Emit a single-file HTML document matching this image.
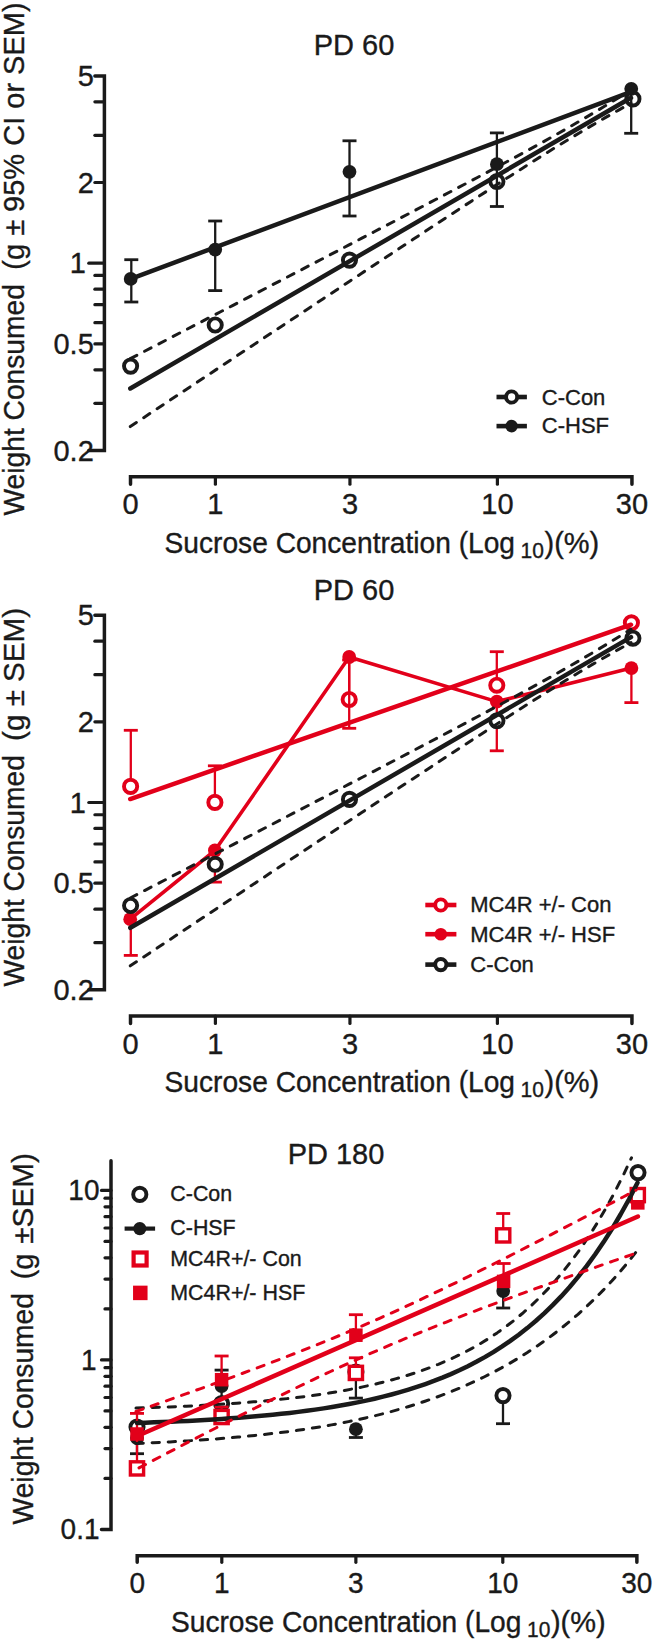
<!DOCTYPE html><html><head><meta charset="utf-8"><style>html,body{margin:0;padding:0;background:#fff;overflow:hidden}svg{display:block}text{font-family:"Liberation Sans",sans-serif}</style></head><body>
<svg width="655" height="1641" viewBox="0 0 655 1641">
<rect width="655" height="1641" fill="#fff"/>
<path d="M94.9,75.88 L104.4,75.88 L104.4,450.52 L88.8,450.52" fill="none" stroke="#1a1a1a" stroke-width="3.5" stroke-linejoin="miter" stroke-linecap="round"/>
<line x1="94.9" y1="403.33" x2="104.4" y2="403.33" stroke="#1a1a1a" stroke-width="3.2" stroke-linecap="round"/>
<line x1="94.9" y1="369.85" x2="104.4" y2="369.85" stroke="#1a1a1a" stroke-width="3.2" stroke-linecap="round"/>
<line x1="94.9" y1="343.88" x2="104.4" y2="343.88" stroke="#1a1a1a" stroke-width="3.2" stroke-linecap="round"/>
<line x1="94.9" y1="322.66" x2="104.4" y2="322.66" stroke="#1a1a1a" stroke-width="3.2" stroke-linecap="round"/>
<line x1="94.9" y1="304.71" x2="104.4" y2="304.71" stroke="#1a1a1a" stroke-width="3.2" stroke-linecap="round"/>
<line x1="94.9" y1="289.17" x2="104.4" y2="289.17" stroke="#1a1a1a" stroke-width="3.2" stroke-linecap="round"/>
<line x1="94.9" y1="275.46" x2="104.4" y2="275.46" stroke="#1a1a1a" stroke-width="3.2" stroke-linecap="round"/>
<line x1="94.9" y1="182.52" x2="104.4" y2="182.52" stroke="#1a1a1a" stroke-width="3.2" stroke-linecap="round"/>
<line x1="94.9" y1="135.33" x2="104.4" y2="135.33" stroke="#1a1a1a" stroke-width="3.2" stroke-linecap="round"/>
<line x1="94.9" y1="101.85" x2="104.4" y2="101.85" stroke="#1a1a1a" stroke-width="3.2" stroke-linecap="round"/>
<line x1="88.8" y1="263.2" x2="104.4" y2="263.2" stroke="#1a1a1a" stroke-width="3.2" stroke-linecap="round"/>
<text transform="translate(93.8,86.08) scale(1,1.04)" font-size="29" text-anchor="end" fill="#1a1a1a" stroke="#1a1a1a" stroke-width="0.35">5</text>
<text transform="translate(93.8,192.72) scale(1,1.04)" font-size="29" text-anchor="end" fill="#1a1a1a" stroke="#1a1a1a" stroke-width="0.35">2</text>
<text transform="translate(93.8,354.08) scale(1,1.04)" font-size="29" text-anchor="end" fill="#1a1a1a" stroke="#1a1a1a" stroke-width="0.35">0.5</text>
<text transform="translate(93.8,460.72) scale(1,1.04)" font-size="29" text-anchor="end" fill="#1a1a1a" stroke="#1a1a1a" stroke-width="0.35">0.2</text>
<text transform="translate(86,273.4) scale(1,1.04)" font-size="29" text-anchor="end" fill="#1a1a1a" stroke="#1a1a1a" stroke-width="0.35">1</text>
<path d="M130.51,484.2 L130.51,476.7 L631.95,476.7 L631.95,484.2" fill="none" stroke="#1a1a1a" stroke-width="3.5" stroke-linecap="round" stroke-linejoin="miter"/>
<line x1="215.4" y1="476.7" x2="215.4" y2="484.2" stroke="#1a1a1a" stroke-width="3.2" stroke-linecap="round"/>
<line x1="349.95" y1="476.7" x2="349.95" y2="484.2" stroke="#1a1a1a" stroke-width="3.2" stroke-linecap="round"/>
<line x1="497.4" y1="476.7" x2="497.4" y2="484.2" stroke="#1a1a1a" stroke-width="3.2" stroke-linecap="round"/>
<text transform="translate(130.51,514.3) scale(1,1.04)" font-size="29" text-anchor="middle" fill="#1a1a1a" stroke="#1a1a1a" stroke-width="0.35">0</text>
<text transform="translate(215.4,514.3) scale(1,1.04)" font-size="29" text-anchor="middle" fill="#1a1a1a" stroke="#1a1a1a" stroke-width="0.35">1</text>
<text transform="translate(349.95,514.3) scale(1,1.04)" font-size="29" text-anchor="middle" fill="#1a1a1a" stroke="#1a1a1a" stroke-width="0.35">3</text>
<text transform="translate(497.4,514.3) scale(1,1.04)" font-size="29" text-anchor="middle" fill="#1a1a1a" stroke="#1a1a1a" stroke-width="0.35">10</text>
<text transform="translate(631.95,514.3) scale(1,1.04)" font-size="29" text-anchor="middle" fill="#1a1a1a" stroke="#1a1a1a" stroke-width="0.35">30</text>
<text transform="translate(354,55.4) scale(1,1.04)" font-size="29" text-anchor="middle" fill="#1a1a1a" stroke="#1a1a1a" stroke-width="0.35">PD 60</text>
<text transform="translate(164.6,552.7) scale(1,1.02)" font-size="28.15" fill="#1a1a1a" stroke="#1a1a1a" stroke-width="0.35">Sucrose Concentration (Log</text>
<text transform="translate(520.6,558) scale(1,1.02)" font-size="21" fill="#1a1a1a" stroke="#1a1a1a" stroke-width="0.35">10</text>
<text transform="translate(544.5,552.7) scale(1,1.0)" font-size="29" fill="#1a1a1a" stroke="#1a1a1a" stroke-width="0.35">)(%)</text>
<text font-size="28.2" fill="#1a1a1a" stroke="#1a1a1a" stroke-width="0.35" transform="translate(24.05,515.5) rotate(-90) scale(1,1.03)">Weight Consumed</text>
<text font-size="29" fill="#1a1a1a" stroke="#1a1a1a" stroke-width="0.35" transform="translate(24.05,269.7) rotate(-90) scale(1,1.0)">(g ± 95% CI or SEM)</text>
<circle cx="130.6" cy="366.1" r="6.6" fill="#fff" stroke="#1a1a1a" stroke-width="3.9"/>
<circle cx="215.2" cy="325" r="6.6" fill="#fff" stroke="#1a1a1a" stroke-width="3.9"/>
<circle cx="349.5" cy="260.1" r="6.6" fill="#fff" stroke="#1a1a1a" stroke-width="3.9"/>
<circle cx="496.9" cy="181.5" r="6.6" fill="#fff" stroke="#1a1a1a" stroke-width="3.9"/>
<circle cx="632.9" cy="98.9" r="6.6" fill="#fff" stroke="#1a1a1a" stroke-width="3.9"/>
<line x1="131.3" y1="278.9" x2="131.3" y2="259.7" stroke="#1a1a1a" stroke-width="2.3" stroke-linecap="butt"/>
<line x1="124.3" y1="259.7" x2="138.3" y2="259.7" stroke="#1a1a1a" stroke-width="2.8" stroke-linecap="butt"/>
<line x1="131.3" y1="278.9" x2="131.3" y2="302" stroke="#1a1a1a" stroke-width="2.3" stroke-linecap="butt"/>
<line x1="124.3" y1="302" x2="138.3" y2="302" stroke="#1a1a1a" stroke-width="2.8" stroke-linecap="butt"/>
<line x1="215.2" y1="249.6" x2="215.2" y2="221" stroke="#1a1a1a" stroke-width="2.3" stroke-linecap="butt"/>
<line x1="208.2" y1="221" x2="222.2" y2="221" stroke="#1a1a1a" stroke-width="2.8" stroke-linecap="butt"/>
<line x1="215.2" y1="249.6" x2="215.2" y2="290.6" stroke="#1a1a1a" stroke-width="2.3" stroke-linecap="butt"/>
<line x1="208.2" y1="290.6" x2="222.2" y2="290.6" stroke="#1a1a1a" stroke-width="2.8" stroke-linecap="butt"/>
<line x1="349.5" y1="171.8" x2="349.5" y2="140.8" stroke="#1a1a1a" stroke-width="2.3" stroke-linecap="butt"/>
<line x1="342.5" y1="140.8" x2="356.5" y2="140.8" stroke="#1a1a1a" stroke-width="2.8" stroke-linecap="butt"/>
<line x1="349.5" y1="171.8" x2="349.5" y2="216" stroke="#1a1a1a" stroke-width="2.3" stroke-linecap="butt"/>
<line x1="342.5" y1="216" x2="356.5" y2="216" stroke="#1a1a1a" stroke-width="2.8" stroke-linecap="butt"/>
<line x1="496.9" y1="164.2" x2="496.9" y2="132.9" stroke="#1a1a1a" stroke-width="2.3" stroke-linecap="butt"/>
<line x1="489.9" y1="132.9" x2="503.9" y2="132.9" stroke="#1a1a1a" stroke-width="2.8" stroke-linecap="butt"/>
<line x1="496.9" y1="164.2" x2="496.9" y2="206.5" stroke="#1a1a1a" stroke-width="2.3" stroke-linecap="butt"/>
<line x1="489.9" y1="206.5" x2="503.9" y2="206.5" stroke="#1a1a1a" stroke-width="2.8" stroke-linecap="butt"/>
<line x1="631.2" y1="88.9" x2="631.2" y2="133.3" stroke="#1a1a1a" stroke-width="2.3" stroke-linecap="butt"/>
<line x1="624.2" y1="133.3" x2="638.2" y2="133.3" stroke="#1a1a1a" stroke-width="2.8" stroke-linecap="butt"/>
<circle cx="130.7" cy="278.9" r="6.9" fill="#1a1a1a"/>
<circle cx="215.2" cy="249.6" r="6.9" fill="#1a1a1a"/>
<circle cx="349.5" cy="171.8" r="6.9" fill="#1a1a1a"/>
<circle cx="496.9" cy="164.2" r="6.9" fill="#1a1a1a"/>
<circle cx="631.25" cy="88.8" r="6.9" fill="#1a1a1a"/>
<path d="M130.3,358.66 L143.14,352 L155.98,345.33 L168.82,338.66 L181.65,332 L194.49,325.33 L207.33,318.66 L220.17,311.98 L233.01,305.31 L245.85,298.64 L258.68,291.96 L271.52,285.28 L284.36,278.6 L297.2,271.92 L310.04,265.23 L322.88,258.54 L335.72,251.85 L348.55,245.15 L361.39,238.45 L374.23,231.75 L387.07,225.03 L399.91,218.31 L412.75,211.58 L425.58,204.84 L438.42,198.09 L451.26,191.32 L464.1,184.53 L476.94,177.72 L489.78,170.87 L502.62,163.99 L515.45,157.06 L528.29,150.07 L541.13,142.99 L553.97,135.82 L566.81,128.53 L579.65,121.1 L592.48,113.53 L605.32,105.8 L618.16,97.93 L631,89.93" fill="none" stroke="#1a1a1a" stroke-width="3.0" stroke-linecap="round" stroke-linejoin="round" stroke-dasharray="7.3 8.8"/>
<path d="M130.3,426.55 L143.14,418.04 L155.98,409.52 L168.82,401 L181.65,392.49 L194.49,383.98 L207.33,375.46 L220.17,366.95 L233.01,358.44 L245.85,349.93 L258.68,341.43 L271.52,332.92 L284.36,324.42 L297.2,315.92 L310.04,307.42 L322.88,298.93 L335.72,290.44 L348.55,281.95 L361.39,273.47 L374.23,265 L387.07,256.53 L399.91,248.07 L412.75,239.61 L425.58,231.17 L438.42,222.74 L451.26,214.33 L464.1,205.93 L476.94,197.57 L489.78,189.23 L502.62,180.92 L515.45,172.67 L528.29,164.48 L541.13,156.37 L553.97,148.36 L566.81,140.47 L579.65,132.71 L592.48,125.11 L605.32,117.66 L618.16,110.34 L631,103.15" fill="none" stroke="#1a1a1a" stroke-width="3.0" stroke-linecap="round" stroke-linejoin="round" stroke-dasharray="7.3 8.8"/>
<path d="M130.3,388.5 L631,97.8" fill="none" stroke="#1a1a1a" stroke-width="4.5" stroke-linecap="round" stroke-linejoin="round"/>
<path d="M130.7,278.9 L631,91.9" fill="none" stroke="#1a1a1a" stroke-width="4.5" stroke-linecap="round" stroke-linejoin="round"/>
<line x1="496.5" y1="397" x2="526.9" y2="397" stroke="#1a1a1a" stroke-width="4.6" stroke-linecap="butt"/>
<circle cx="511.6" cy="397" r="5.6" fill="#fff" stroke="#1a1a1a" stroke-width="3.9"/>
<text transform="translate(541.8,404.5) scale(1,1.04)" font-size="22" text-anchor="start" fill="#1a1a1a" stroke="#1a1a1a" stroke-width="0.35">C-Con</text>
<line x1="496.5" y1="426.1" x2="526.9" y2="426.1" stroke="#1a1a1a" stroke-width="4.6" stroke-linecap="butt"/>
<circle cx="511.6" cy="426.1" r="6.3" fill="#1a1a1a"/>
<text transform="translate(541.8,433.3) scale(1,1.04)" font-size="22" text-anchor="start" fill="#1a1a1a" stroke="#1a1a1a" stroke-width="0.35">C-HSF</text>
<path d="M94.9,615.18 L104.4,615.18 L104.4,989.82 L88.8,989.82" fill="none" stroke="#1a1a1a" stroke-width="3.5" stroke-linejoin="miter" stroke-linecap="round"/>
<line x1="94.9" y1="942.63" x2="104.4" y2="942.63" stroke="#1a1a1a" stroke-width="3.2" stroke-linecap="round"/>
<line x1="94.9" y1="909.15" x2="104.4" y2="909.15" stroke="#1a1a1a" stroke-width="3.2" stroke-linecap="round"/>
<line x1="94.9" y1="883.18" x2="104.4" y2="883.18" stroke="#1a1a1a" stroke-width="3.2" stroke-linecap="round"/>
<line x1="94.9" y1="861.96" x2="104.4" y2="861.96" stroke="#1a1a1a" stroke-width="3.2" stroke-linecap="round"/>
<line x1="94.9" y1="844.01" x2="104.4" y2="844.01" stroke="#1a1a1a" stroke-width="3.2" stroke-linecap="round"/>
<line x1="94.9" y1="828.47" x2="104.4" y2="828.47" stroke="#1a1a1a" stroke-width="3.2" stroke-linecap="round"/>
<line x1="94.9" y1="814.76" x2="104.4" y2="814.76" stroke="#1a1a1a" stroke-width="3.2" stroke-linecap="round"/>
<line x1="94.9" y1="721.82" x2="104.4" y2="721.82" stroke="#1a1a1a" stroke-width="3.2" stroke-linecap="round"/>
<line x1="94.9" y1="674.63" x2="104.4" y2="674.63" stroke="#1a1a1a" stroke-width="3.2" stroke-linecap="round"/>
<line x1="94.9" y1="641.15" x2="104.4" y2="641.15" stroke="#1a1a1a" stroke-width="3.2" stroke-linecap="round"/>
<line x1="88.8" y1="802.5" x2="104.4" y2="802.5" stroke="#1a1a1a" stroke-width="3.2" stroke-linecap="round"/>
<text transform="translate(93.8,625.38) scale(1,1.04)" font-size="29" text-anchor="end" fill="#1a1a1a" stroke="#1a1a1a" stroke-width="0.35">5</text>
<text transform="translate(93.8,732.02) scale(1,1.04)" font-size="29" text-anchor="end" fill="#1a1a1a" stroke="#1a1a1a" stroke-width="0.35">2</text>
<text transform="translate(93.8,893.38) scale(1,1.04)" font-size="29" text-anchor="end" fill="#1a1a1a" stroke="#1a1a1a" stroke-width="0.35">0.5</text>
<text transform="translate(93.8,1000.02) scale(1,1.04)" font-size="29" text-anchor="end" fill="#1a1a1a" stroke="#1a1a1a" stroke-width="0.35">0.2</text>
<text transform="translate(86,812.7) scale(1,1.04)" font-size="29" text-anchor="end" fill="#1a1a1a" stroke="#1a1a1a" stroke-width="0.35">1</text>
<path d="M130.51,1023.5 L130.51,1016 L631.95,1016 L631.95,1023.5" fill="none" stroke="#1a1a1a" stroke-width="3.5" stroke-linecap="round" stroke-linejoin="miter"/>
<line x1="215.4" y1="1016" x2="215.4" y2="1023.5" stroke="#1a1a1a" stroke-width="3.2" stroke-linecap="round"/>
<line x1="349.95" y1="1016" x2="349.95" y2="1023.5" stroke="#1a1a1a" stroke-width="3.2" stroke-linecap="round"/>
<line x1="497.4" y1="1016" x2="497.4" y2="1023.5" stroke="#1a1a1a" stroke-width="3.2" stroke-linecap="round"/>
<text transform="translate(130.51,1053.6) scale(1,1.04)" font-size="29" text-anchor="middle" fill="#1a1a1a" stroke="#1a1a1a" stroke-width="0.35">0</text>
<text transform="translate(215.4,1053.6) scale(1,1.04)" font-size="29" text-anchor="middle" fill="#1a1a1a" stroke="#1a1a1a" stroke-width="0.35">1</text>
<text transform="translate(349.95,1053.6) scale(1,1.04)" font-size="29" text-anchor="middle" fill="#1a1a1a" stroke="#1a1a1a" stroke-width="0.35">3</text>
<text transform="translate(497.4,1053.6) scale(1,1.04)" font-size="29" text-anchor="middle" fill="#1a1a1a" stroke="#1a1a1a" stroke-width="0.35">10</text>
<text transform="translate(631.95,1053.6) scale(1,1.04)" font-size="29" text-anchor="middle" fill="#1a1a1a" stroke="#1a1a1a" stroke-width="0.35">30</text>
<text transform="translate(354,600) scale(1,1.04)" font-size="29" text-anchor="middle" fill="#1a1a1a" stroke="#1a1a1a" stroke-width="0.35">PD 60</text>
<text transform="translate(164.6,1092) scale(1,1.02)" font-size="28.15" fill="#1a1a1a" stroke="#1a1a1a" stroke-width="0.35">Sucrose Concentration (Log</text>
<text transform="translate(520.6,1097.3) scale(1,1.02)" font-size="21" fill="#1a1a1a" stroke="#1a1a1a" stroke-width="0.35">10</text>
<text transform="translate(544.5,1092) scale(1,1.0)" font-size="29" fill="#1a1a1a" stroke="#1a1a1a" stroke-width="0.35">)(%)</text>
<text font-size="28.2" fill="#1a1a1a" stroke="#1a1a1a" stroke-width="0.35" transform="translate(24.05,986.5) rotate(-90) scale(1,1.03)">Weight Consumed</text>
<text font-size="29.6" fill="#1a1a1a" stroke="#1a1a1a" stroke-width="0.35" transform="translate(24.05,740.9) rotate(-90) scale(1,1.0)">(g ± SEM)</text>
<line x1="130.8" y1="786.4" x2="130.8" y2="730.3" stroke="#e2001a" stroke-width="2.3" stroke-linecap="butt"/>
<line x1="123.8" y1="730.3" x2="137.8" y2="730.3" stroke="#e2001a" stroke-width="2.8" stroke-linecap="butt"/>
<line x1="214.9" y1="802.4" x2="214.9" y2="765.8" stroke="#e2001a" stroke-width="2.3" stroke-linecap="butt"/>
<line x1="207.9" y1="765.8" x2="221.9" y2="765.8" stroke="#e2001a" stroke-width="2.8" stroke-linecap="butt"/>
<line x1="496.8" y1="685.2" x2="496.8" y2="651.7" stroke="#e2001a" stroke-width="2.3" stroke-linecap="butt"/>
<line x1="489.8" y1="651.7" x2="503.8" y2="651.7" stroke="#e2001a" stroke-width="2.8" stroke-linecap="butt"/>
<line x1="349.2" y1="699.5" x2="349.2" y2="660" stroke="#e2001a" stroke-width="2.3" stroke-linecap="butt"/>
<line x1="342.2" y1="660" x2="356.2" y2="660" stroke="#e2001a" stroke-width="2.8" stroke-linecap="butt"/>
<circle cx="130.6" cy="786.4" r="6.6" fill="#fff" stroke="#e2001a" stroke-width="3.9"/>
<circle cx="214.9" cy="802.4" r="6.6" fill="#fff" stroke="#e2001a" stroke-width="3.9"/>
<circle cx="349.2" cy="699.5" r="6.6" fill="#fff" stroke="#e2001a" stroke-width="3.9"/>
<circle cx="496.8" cy="685.2" r="6.6" fill="#fff" stroke="#e2001a" stroke-width="3.9"/>
<circle cx="631.4" cy="622.8" r="6.6" fill="#fff" stroke="#e2001a" stroke-width="3.9"/>
<line x1="130.8" y1="919.2" x2="130.8" y2="955.4" stroke="#e2001a" stroke-width="2.3" stroke-linecap="butt"/>
<line x1="123.8" y1="955.4" x2="137.8" y2="955.4" stroke="#e2001a" stroke-width="2.8" stroke-linecap="butt"/>
<line x1="214.9" y1="850.5" x2="214.9" y2="882.1" stroke="#e2001a" stroke-width="2.3" stroke-linecap="butt"/>
<line x1="207.9" y1="882.1" x2="221.9" y2="882.1" stroke="#e2001a" stroke-width="2.8" stroke-linecap="butt"/>
<line x1="349.2" y1="657" x2="349.2" y2="728.3" stroke="#e2001a" stroke-width="2.3" stroke-linecap="butt"/>
<line x1="342.2" y1="728.3" x2="356.2" y2="728.3" stroke="#e2001a" stroke-width="2.8" stroke-linecap="butt"/>
<line x1="496.8" y1="701.6" x2="496.8" y2="750.8" stroke="#e2001a" stroke-width="2.3" stroke-linecap="butt"/>
<line x1="489.8" y1="750.8" x2="503.8" y2="750.8" stroke="#e2001a" stroke-width="2.8" stroke-linecap="butt"/>
<line x1="631.4" y1="668.1" x2="631.4" y2="702.6" stroke="#e2001a" stroke-width="2.3" stroke-linecap="butt"/>
<line x1="624.4" y1="702.6" x2="638.4" y2="702.6" stroke="#e2001a" stroke-width="2.8" stroke-linecap="butt"/>
<circle cx="130.2" cy="919.2" r="6.9" fill="#e2001a"/>
<circle cx="214.9" cy="850.5" r="6.9" fill="#e2001a"/>
<circle cx="349.2" cy="657" r="6.9" fill="#e2001a"/>
<circle cx="496.8" cy="701.6" r="6.9" fill="#e2001a"/>
<circle cx="631.4" cy="668.1" r="6.9" fill="#e2001a"/>
<path d="M130.2,799 L631,624.7" fill="none" stroke="#e2001a" stroke-width="4.5" stroke-linecap="round" stroke-linejoin="round"/>
<path d="M130.2,919.2 L214.9,850.5 L349.2,657 L496.8,701.6 L631.4,668.1" fill="none" stroke="#e2001a" stroke-width="3.6" stroke-linecap="round" stroke-linejoin="round"/>
<circle cx="130.6" cy="905.5" r="6.6" fill="#fff" stroke="#1a1a1a" stroke-width="3.9"/>
<circle cx="215.2" cy="864.3" r="6.6" fill="#fff" stroke="#1a1a1a" stroke-width="3.9"/>
<circle cx="349.5" cy="799.4" r="6.6" fill="#fff" stroke="#1a1a1a" stroke-width="3.9"/>
<circle cx="496.9" cy="720.8" r="6.6" fill="#fff" stroke="#1a1a1a" stroke-width="3.9"/>
<circle cx="632.9" cy="638.2" r="6.6" fill="#fff" stroke="#1a1a1a" stroke-width="3.9"/>
<path d="M130.3,897.96 L143.14,891.3 L155.98,884.63 L168.82,877.96 L181.65,871.3 L194.49,864.63 L207.33,857.96 L220.17,851.28 L233.01,844.61 L245.85,837.94 L258.68,831.26 L271.52,824.58 L284.36,817.9 L297.2,811.22 L310.04,804.53 L322.88,797.84 L335.72,791.15 L348.55,784.45 L361.39,777.75 L374.23,771.05 L387.07,764.33 L399.91,757.61 L412.75,750.88 L425.58,744.14 L438.42,737.39 L451.26,730.62 L464.1,723.83 L476.94,717.02 L489.78,710.17 L502.62,703.29 L515.45,696.36 L528.29,689.37 L541.13,682.29 L553.97,675.12 L566.81,667.83 L579.65,660.4 L592.48,652.83 L605.32,645.1 L618.16,637.23 L631,629.23" fill="none" stroke="#1a1a1a" stroke-width="3.0" stroke-linecap="round" stroke-linejoin="round" stroke-dasharray="7.3 8.8"/>
<path d="M130.3,965.85 L143.14,957.34 L155.98,948.82 L168.82,940.3 L181.65,931.79 L194.49,923.28 L207.33,914.76 L220.17,906.25 L233.01,897.74 L245.85,889.23 L258.68,880.73 L271.52,872.22 L284.36,863.72 L297.2,855.22 L310.04,846.72 L322.88,838.23 L335.72,829.74 L348.55,821.25 L361.39,812.77 L374.23,804.3 L387.07,795.83 L399.91,787.37 L412.75,778.91 L425.58,770.47 L438.42,762.04 L451.26,753.63 L464.1,745.23 L476.94,736.87 L489.78,728.53 L502.62,720.22 L515.45,711.97 L528.29,703.78 L541.13,695.67 L553.97,687.66 L566.81,679.77 L579.65,672.01 L592.48,664.41 L605.32,656.96 L618.16,649.64 L631,642.45" fill="none" stroke="#1a1a1a" stroke-width="3.0" stroke-linecap="round" stroke-linejoin="round" stroke-dasharray="7.3 8.8"/>
<path d="M130.3,927.8 L631,637.1" fill="none" stroke="#1a1a1a" stroke-width="4.5" stroke-linecap="round" stroke-linejoin="round"/>
<line x1="425.3" y1="905" x2="456.4" y2="905" stroke="#e2001a" stroke-width="4.6" stroke-linecap="butt"/>
<circle cx="440.8" cy="905" r="5.6" fill="#fff" stroke="#e2001a" stroke-width="3.9"/>
<text transform="translate(470.3,912.1) scale(1,1.04)" font-size="22" text-anchor="start" fill="#1a1a1a" stroke="#1a1a1a" stroke-width="0.35">MC4R +/- Con</text>
<line x1="425.3" y1="934.2" x2="456.4" y2="934.2" stroke="#e2001a" stroke-width="4.6" stroke-linecap="butt"/>
<circle cx="440.8" cy="934.2" r="6.3" fill="#e2001a"/>
<text transform="translate(470.3,941.8) scale(1,1.04)" font-size="22" text-anchor="start" fill="#1a1a1a" stroke="#1a1a1a" stroke-width="0.35">MC4R +/- HSF</text>
<line x1="425.3" y1="964.6" x2="456.4" y2="964.6" stroke="#1a1a1a" stroke-width="4.6" stroke-linecap="butt"/>
<circle cx="440.8" cy="964.6" r="5.6" fill="#fff" stroke="#1a1a1a" stroke-width="3.9"/>
<text transform="translate(470.3,971.5) scale(1,1.04)" font-size="22" text-anchor="start" fill="#1a1a1a" stroke="#1a1a1a" stroke-width="0.35">C-Con</text>
<path d="M111,1160.8 L111,1529.4 L101.5,1529.4" fill="none" stroke="#1a1a1a" stroke-width="3.5" stroke-linecap="round"/>
<line x1="105" y1="1478.38" x2="111" y2="1478.38" stroke="#1a1a1a" stroke-width="3.2" stroke-linecap="round"/>
<line x1="105" y1="1448.53" x2="111" y2="1448.53" stroke="#1a1a1a" stroke-width="3.2" stroke-linecap="round"/>
<line x1="105" y1="1427.35" x2="111" y2="1427.35" stroke="#1a1a1a" stroke-width="3.2" stroke-linecap="round"/>
<line x1="105" y1="1410.92" x2="111" y2="1410.92" stroke="#1a1a1a" stroke-width="3.2" stroke-linecap="round"/>
<line x1="105" y1="1397.5" x2="111" y2="1397.5" stroke="#1a1a1a" stroke-width="3.2" stroke-linecap="round"/>
<line x1="105" y1="1386.16" x2="111" y2="1386.16" stroke="#1a1a1a" stroke-width="3.2" stroke-linecap="round"/>
<line x1="105" y1="1376.33" x2="111" y2="1376.33" stroke="#1a1a1a" stroke-width="3.2" stroke-linecap="round"/>
<line x1="105" y1="1367.66" x2="111" y2="1367.66" stroke="#1a1a1a" stroke-width="3.2" stroke-linecap="round"/>
<line x1="105" y1="1308.88" x2="111" y2="1308.88" stroke="#1a1a1a" stroke-width="3.2" stroke-linecap="round"/>
<line x1="105" y1="1279.03" x2="111" y2="1279.03" stroke="#1a1a1a" stroke-width="3.2" stroke-linecap="round"/>
<line x1="105" y1="1257.85" x2="111" y2="1257.85" stroke="#1a1a1a" stroke-width="3.2" stroke-linecap="round"/>
<line x1="105" y1="1241.42" x2="111" y2="1241.42" stroke="#1a1a1a" stroke-width="3.2" stroke-linecap="round"/>
<line x1="105" y1="1228" x2="111" y2="1228" stroke="#1a1a1a" stroke-width="3.2" stroke-linecap="round"/>
<line x1="105" y1="1216.66" x2="111" y2="1216.66" stroke="#1a1a1a" stroke-width="3.2" stroke-linecap="round"/>
<line x1="105" y1="1206.83" x2="111" y2="1206.83" stroke="#1a1a1a" stroke-width="3.2" stroke-linecap="round"/>
<line x1="105" y1="1198.16" x2="111" y2="1198.16" stroke="#1a1a1a" stroke-width="3.2" stroke-linecap="round"/>
<line x1="101.5" y1="1359.9" x2="111" y2="1359.9" stroke="#1a1a1a" stroke-width="3.2" stroke-linecap="round"/>
<line x1="101.5" y1="1190.4" x2="111" y2="1190.4" stroke="#1a1a1a" stroke-width="3.2" stroke-linecap="round"/>
<text transform="translate(99.5,1200.2) scale(1,1.04)" font-size="28" text-anchor="end" fill="#1a1a1a" stroke="#1a1a1a" stroke-width="0.35">10</text>
<text transform="translate(96.5,1369.7) scale(1,1.04)" font-size="28" text-anchor="end" fill="#1a1a1a" stroke="#1a1a1a" stroke-width="0.35">1</text>
<text transform="translate(99.5,1539.2) scale(1,1.04)" font-size="28" text-anchor="end" fill="#1a1a1a" stroke="#1a1a1a" stroke-width="0.35">0.1</text>
<path d="M137.21,1562.3 L137.21,1555.8 L636.87,1555.8 L636.87,1562.3" fill="none" stroke="#1a1a1a" stroke-width="3.5" stroke-linecap="round"/>
<line x1="221.8" y1="1555.8" x2="221.8" y2="1562.3" stroke="#1a1a1a" stroke-width="3.2" stroke-linecap="round"/>
<line x1="355.87" y1="1555.8" x2="355.87" y2="1562.3" stroke="#1a1a1a" stroke-width="3.2" stroke-linecap="round"/>
<line x1="502.8" y1="1555.8" x2="502.8" y2="1562.3" stroke="#1a1a1a" stroke-width="3.2" stroke-linecap="round"/>
<text transform="translate(137.21,1593.2) scale(1,1.04)" font-size="28" text-anchor="middle" fill="#1a1a1a" stroke="#1a1a1a" stroke-width="0.35">0</text>
<text transform="translate(221.8,1593.2) scale(1,1.04)" font-size="28" text-anchor="middle" fill="#1a1a1a" stroke="#1a1a1a" stroke-width="0.35">1</text>
<text transform="translate(355.87,1593.2) scale(1,1.04)" font-size="28" text-anchor="middle" fill="#1a1a1a" stroke="#1a1a1a" stroke-width="0.35">3</text>
<text transform="translate(502.8,1593.2) scale(1,1.04)" font-size="28" text-anchor="middle" fill="#1a1a1a" stroke="#1a1a1a" stroke-width="0.35">10</text>
<text transform="translate(636.87,1593.2) scale(1,1.04)" font-size="28" text-anchor="middle" fill="#1a1a1a" stroke="#1a1a1a" stroke-width="0.35">30</text>
<text transform="translate(171,1632) scale(1,1.02)" font-size="28.15" fill="#1a1a1a" stroke="#1a1a1a" stroke-width="0.35">Sucrose Concentration (Log</text>
<text transform="translate(527,1637.3) scale(1,1.02)" font-size="21" fill="#1a1a1a" stroke="#1a1a1a" stroke-width="0.35">10</text>
<text transform="translate(550.9,1632) scale(1,1.0)" font-size="29" fill="#1a1a1a" stroke="#1a1a1a" stroke-width="0.35">)(%)</text>
<text transform="translate(336,1164.2) scale(1,1.04)" font-size="29" text-anchor="middle" fill="#1a1a1a" stroke="#1a1a1a" stroke-width="0.35">PD 180</text>
<text font-size="28.2" fill="#1a1a1a" stroke="#1a1a1a" stroke-width="0.35" transform="translate(32.8,1524.4) rotate(-90) scale(1,1.03)">Weight Consumed</text>
<text font-size="29" fill="#1a1a1a" stroke="#1a1a1a" stroke-width="0.35" transform="translate(32.8,1279.3) rotate(-90) scale(1,1.0)">(g</text>
<text font-size="29.8" fill="#1a1a1a" stroke="#1a1a1a" stroke-width="0.35" transform="translate(32.8,1243.8) rotate(-90) scale(1,1.0)">±SEM)</text>
<line x1="137" y1="1438" x2="137" y2="1453.7" stroke="#1a1a1a" stroke-width="2.3" stroke-linecap="butt"/>
<line x1="130" y1="1453.7" x2="144" y2="1453.7" stroke="#1a1a1a" stroke-width="2.8" stroke-linecap="butt"/>
<circle cx="137" cy="1427" r="6.6" fill="#fff" stroke="#1a1a1a" stroke-width="3.9"/>
<circle cx="137" cy="1438" r="6.9" fill="#1a1a1a"/>
<line x1="221.6" y1="1386" x2="221.6" y2="1370.1" stroke="#1a1a1a" stroke-width="2.3" stroke-linecap="butt"/>
<line x1="214.6" y1="1370.1" x2="228.6" y2="1370.1" stroke="#1a1a1a" stroke-width="2.8" stroke-linecap="butt"/>
<circle cx="221.6" cy="1386" r="6.9" fill="#1a1a1a"/>
<line x1="221.6" y1="1403.5" x2="221.6" y2="1387" stroke="#1a1a1a" stroke-width="2.3" stroke-linecap="butt"/>
<circle cx="221.6" cy="1403.5" r="6.6" fill="#fff" stroke="#1a1a1a" stroke-width="3.9"/>
<line x1="355.9" y1="1372" x2="355.9" y2="1398.1" stroke="#1a1a1a" stroke-width="2.3" stroke-linecap="butt"/>
<line x1="348.9" y1="1398.1" x2="362.9" y2="1398.1" stroke="#1a1a1a" stroke-width="2.8" stroke-linecap="butt"/>
<circle cx="355.9" cy="1372" r="6.6" fill="#fff" stroke="#1a1a1a" stroke-width="3.9"/>
<line x1="355.9" y1="1429.2" x2="355.9" y2="1437.5" stroke="#1a1a1a" stroke-width="2.3" stroke-linecap="butt"/>
<line x1="348.9" y1="1437.5" x2="362.9" y2="1437.5" stroke="#1a1a1a" stroke-width="2.8" stroke-linecap="butt"/>
<circle cx="355.9" cy="1429.2" r="6.9" fill="#1a1a1a"/>
<line x1="503.2" y1="1291" x2="503.2" y2="1308" stroke="#1a1a1a" stroke-width="2.3" stroke-linecap="butt"/>
<line x1="496.2" y1="1308" x2="510.2" y2="1308" stroke="#1a1a1a" stroke-width="2.8" stroke-linecap="butt"/>
<circle cx="503.2" cy="1291" r="6.9" fill="#1a1a1a"/>
<line x1="503" y1="1395.6" x2="503" y2="1423.7" stroke="#1a1a1a" stroke-width="2.3" stroke-linecap="butt"/>
<line x1="496" y1="1423.7" x2="510" y2="1423.7" stroke="#1a1a1a" stroke-width="2.8" stroke-linecap="butt"/>
<circle cx="503" cy="1395.6" r="6.6" fill="#fff" stroke="#1a1a1a" stroke-width="3.9"/>
<circle cx="638" cy="1172.6" r="6.6" fill="#fff" stroke="#1a1a1a" stroke-width="3.9"/>
<line x1="137" y1="1434" x2="137" y2="1413.4" stroke="#e2001a" stroke-width="2.3" stroke-linecap="butt"/>
<line x1="130" y1="1413.4" x2="144" y2="1413.4" stroke="#e2001a" stroke-width="2.8" stroke-linecap="butt"/>
<line x1="137" y1="1434" x2="137" y2="1468.4" stroke="#e2001a" stroke-width="2.3" stroke-linecap="butt"/>
<rect x="130.25" y="1427.25" width="13.5" height="13.5" fill="#e2001a"/>
<rect x="130.4" y="1461.8" width="13.2" height="13.2" fill="#fff" stroke="#e2001a" stroke-width="3.4"/>
<line x1="221.6" y1="1379.7" x2="221.6" y2="1356" stroke="#e2001a" stroke-width="2.3" stroke-linecap="butt"/>
<line x1="214.6" y1="1356" x2="228.6" y2="1356" stroke="#e2001a" stroke-width="2.8" stroke-linecap="butt"/>
<rect x="214.85" y="1372.95" width="13.5" height="13.5" fill="#e2001a"/>
<line x1="221.6" y1="1417" x2="221.6" y2="1407" stroke="#e2001a" stroke-width="2.3" stroke-linecap="butt"/>
<line x1="214.6" y1="1407" x2="228.6" y2="1407" stroke="#e2001a" stroke-width="2.8" stroke-linecap="butt"/>
<rect x="215" y="1410.4" width="13.2" height="13.2" fill="#fff" stroke="#e2001a" stroke-width="3.4"/>
<line x1="355.9" y1="1335.2" x2="355.9" y2="1314.7" stroke="#e2001a" stroke-width="2.3" stroke-linecap="butt"/>
<line x1="348.9" y1="1314.7" x2="362.9" y2="1314.7" stroke="#e2001a" stroke-width="2.8" stroke-linecap="butt"/>
<rect x="349.15" y="1328.45" width="13.5" height="13.5" fill="#e2001a"/>
<line x1="355.9" y1="1372.9" x2="355.9" y2="1357.8" stroke="#e2001a" stroke-width="2.3" stroke-linecap="butt"/>
<line x1="348.9" y1="1357.8" x2="362.9" y2="1357.8" stroke="#e2001a" stroke-width="2.8" stroke-linecap="butt"/>
<rect x="349.3" y="1366.3" width="13.2" height="13.2" fill="#fff" stroke="#e2001a" stroke-width="3.4"/>
<line x1="503.2" y1="1235.4" x2="503.2" y2="1213.5" stroke="#e2001a" stroke-width="2.3" stroke-linecap="butt"/>
<line x1="496.2" y1="1213.5" x2="510.2" y2="1213.5" stroke="#e2001a" stroke-width="2.8" stroke-linecap="butt"/>
<rect x="496.6" y="1228.8" width="13.2" height="13.2" fill="#fff" stroke="#e2001a" stroke-width="3.4"/>
<line x1="503.6" y1="1281.4" x2="503.6" y2="1263.5" stroke="#e2001a" stroke-width="2.3" stroke-linecap="butt"/>
<line x1="496.6" y1="1263.5" x2="510.6" y2="1263.5" stroke="#e2001a" stroke-width="2.8" stroke-linecap="butt"/>
<rect x="496.85" y="1274.65" width="13.5" height="13.5" fill="#e2001a"/>
<rect x="631.05" y="1196.15" width="13.5" height="13.5" fill="#e2001a"/>
<rect x="631.2" y="1188.5" width="13.2" height="13.2" fill="#fff" stroke="#e2001a" stroke-width="3.4"/>
<path d="M137,1422.97 L145.48,1422.68 L153.97,1422.36 L162.45,1422.03 L170.93,1421.67 L179.42,1421.29 L187.9,1420.88 L196.38,1420.43 L204.86,1419.96 L213.35,1419.45 L221.83,1418.91 L230.31,1418.33 L238.8,1417.7 L247.28,1417.03 L255.76,1416.31 L264.25,1415.54 L272.73,1414.72 L281.21,1413.83 L289.69,1412.89 L298.18,1411.87 L306.66,1410.78 L315.14,1409.61 L323.63,1408.36 L332.11,1407.01 L340.59,1405.58 L349.08,1404.03 L357.56,1402.38 L366.04,1400.61 L374.53,1398.7 L383.01,1396.67 L391.49,1394.48 L399.97,1392.14 L408.46,1389.63 L416.94,1386.94 L425.42,1384.06 L433.91,1380.97 L442.39,1377.65 L450.87,1374.1 L459.36,1370.29 L467.84,1366.21 L476.32,1361.83 L484.81,1357.14 L493.29,1352.11 L501.77,1346.71 L510.25,1340.93 L518.74,1334.74 L527.22,1328.1 L535.7,1320.98 L544.19,1313.34 L552.67,1305.16 L561.15,1296.39 L569.64,1286.99 L578.12,1276.91 L586.6,1266.1 L595.08,1254.52 L603.57,1242.1 L612.05,1228.79 L620.53,1214.52 L629.02,1199.23 L637.5,1182.83" fill="none" stroke="#1a1a1a" stroke-width="4.5" stroke-linecap="round" stroke-linejoin="round"/>
<path d="M136,1408.08 L144.4,1407.81 L152.8,1407.52 L161.19,1407.21 L169.59,1406.88 L177.99,1406.52 L186.39,1406.13 L194.79,1405.72 L203.19,1405.28 L211.58,1404.8 L219.98,1404.29 L228.38,1403.75 L236.78,1403.16 L245.18,1402.53 L253.58,1401.85 L261.97,1401.13 L270.37,1400.35 L278.77,1399.52 L287.17,1398.62 L295.57,1397.66 L303.97,1396.63 L312.36,1395.52 L320.76,1394.32 L329.16,1393.04 L337.56,1391.66 L345.96,1390.19 L354.36,1388.6 L362.75,1386.89 L371.15,1385.05 L379.55,1383.07 L387.95,1380.94 L396.35,1378.66 L404.75,1376.19 L413.14,1373.55 L421.54,1370.7 L429.94,1367.63 L438.34,1364.32 L446.74,1360.77 L455.14,1356.94 L463.53,1352.81 L471.93,1348.37 L480.33,1343.58 L488.73,1338.43 L497.13,1332.88 L505.53,1326.9 L513.92,1320.46 L522.32,1313.53 L530.72,1306.07 L539.12,1298.03 L547.52,1289.39 L555.92,1280.08 L564.31,1270.07 L572.71,1259.3 L581.11,1247.72 L589.51,1235.28 L597.91,1221.91 L606.31,1207.55 L614.7,1192.13 L623.1,1175.57 L631.5,1157.8" fill="none" stroke="#1a1a1a" stroke-width="3.0" stroke-linecap="round" stroke-linejoin="round" stroke-dasharray="7.3 8.8"/>
<path d="M136,1443.48 L144.5,1443.12 L153,1442.73 L161.5,1442.32 L170,1441.88 L178.5,1441.41 L187,1440.91 L195.5,1440.37 L204,1439.8 L212.5,1439.18 L221,1438.53 L229.5,1437.83 L238,1437.09 L246.5,1436.3 L255,1435.45 L263.5,1434.55 L272,1433.58 L280.5,1432.56 L289,1431.47 L297.5,1430.31 L306,1429.07 L314.5,1427.76 L323,1426.36 L331.5,1424.88 L340,1423.3 L348.5,1421.63 L357,1419.86 L365.5,1417.97 L374,1415.98 L382.5,1413.86 L391,1411.62 L399.5,1409.25 L408,1406.74 L416.5,1404.08 L425,1401.28 L433.5,1398.31 L442,1395.18 L450.5,1391.88 L459,1388.39 L467.5,1384.71 L476,1380.83 L484.5,1376.74 L493,1372.43 L501.5,1367.89 L510,1363.1 L518.5,1358.06 L527,1352.74 L535.5,1347.14 L544,1341.25 L552.5,1335.03 L561,1328.47 L569.5,1321.56 L578,1314.27 L586.5,1306.57 L595,1298.45 L603.5,1289.86 L612,1280.78 L620.5,1271.17 L629,1261 L637.5,1250.21" fill="none" stroke="#1a1a1a" stroke-width="3.0" stroke-linecap="round" stroke-linejoin="round" stroke-dasharray="7.3 8.8"/>
<path d="M137.3,1436 L637.9,1216.49" fill="none" stroke="#e2001a" stroke-width="4.5" stroke-linecap="round" stroke-linejoin="round"/>
<path d="M136,1411.53 L148.82,1407.03 L161.64,1402.51 L174.46,1397.97 L187.28,1393.4 L200.1,1388.8 L212.92,1384.17 L225.74,1379.51 L238.56,1374.8 L251.38,1370.04 L264.21,1365.23 L277.03,1360.36 L289.85,1355.42 L302.67,1350.4 L315.49,1345.3 L328.31,1340.1 L341.13,1334.81 L353.95,1329.41 L366.77,1323.9 L379.59,1318.28 L392.41,1312.54 L405.23,1306.7 L418.05,1300.75 L430.87,1294.71 L443.69,1288.57 L456.51,1282.35 L469.33,1276.05 L482.15,1269.69 L494.97,1263.27 L507.79,1256.79 L520.62,1250.27 L533.44,1243.71 L546.26,1237.11 L559.08,1230.48 L571.9,1223.82 L584.72,1217.13 L597.54,1210.43 L610.36,1203.7 L623.18,1196.96 L636,1190.2" fill="none" stroke="#e2001a" stroke-width="3.0" stroke-linecap="round" stroke-linejoin="round" stroke-dasharray="7.3 8.8"/>
<path d="M139,1467.88 L151.81,1461.16 L164.62,1454.47 L177.42,1447.81 L190.23,1441.17 L203.04,1434.55 L215.85,1427.98 L228.65,1421.44 L241.46,1414.94 L254.27,1408.49 L267.08,1402.1 L279.88,1395.77 L292.69,1389.51 L305.5,1383.33 L318.31,1377.24 L331.12,1371.24 L343.92,1365.34 L356.73,1359.55 L369.54,1353.87 L382.35,1348.3 L395.15,1342.84 L407.96,1337.49 L420.77,1332.24 L433.58,1327.09 L446.38,1322.03 L459.19,1317.05 L472,1312.14 L484.81,1307.3 L497.62,1302.52 L510.42,1297.79 L523.23,1293.1 L536.04,1288.45 L548.85,1283.84 L561.65,1279.26 L574.46,1274.71 L587.27,1270.18 L600.08,1265.68 L612.88,1261.19 L625.69,1256.72 L638.5,1252.26" fill="none" stroke="#e2001a" stroke-width="3.0" stroke-linecap="round" stroke-linejoin="round" stroke-dasharray="7.3 8.8"/>
<circle cx="139.8" cy="1194.4" r="6.6" fill="#fff" stroke="#1a1a1a" stroke-width="3.9"/>
<text transform="translate(170.3,1201) scale(1,1.04)" font-size="21.4" text-anchor="start" fill="#1a1a1a" stroke="#1a1a1a" stroke-width="0.35">C-Con</text>
<line x1="124.6" y1="1228.6" x2="155.1" y2="1228.6" stroke="#1a1a1a" stroke-width="4.2" stroke-linecap="butt"/>
<circle cx="139.8" cy="1228.6" r="6.6" fill="#1a1a1a"/>
<text transform="translate(170.3,1235.2) scale(1,1.04)" font-size="21.4" text-anchor="start" fill="#1a1a1a" stroke="#1a1a1a" stroke-width="0.35">C-HSF</text>
<rect x="133.6" y="1252.5" width="13" height="13" fill="#fff" stroke="#e2001a" stroke-width="4.2"/>
<text transform="translate(170.3,1266.2) scale(1,1.04)" font-size="21.4" text-anchor="start" fill="#1a1a1a" stroke="#1a1a1a" stroke-width="0.35">MC4R+/- Con</text>
<rect x="133.05" y="1285.65" width="14.5" height="14.5" fill="#e2001a"/>
<text transform="translate(170.3,1299.8) scale(1,1.04)" font-size="21.4" text-anchor="start" fill="#1a1a1a" stroke="#1a1a1a" stroke-width="0.35">MC4R+/- HSF</text>
</svg></body></html>
